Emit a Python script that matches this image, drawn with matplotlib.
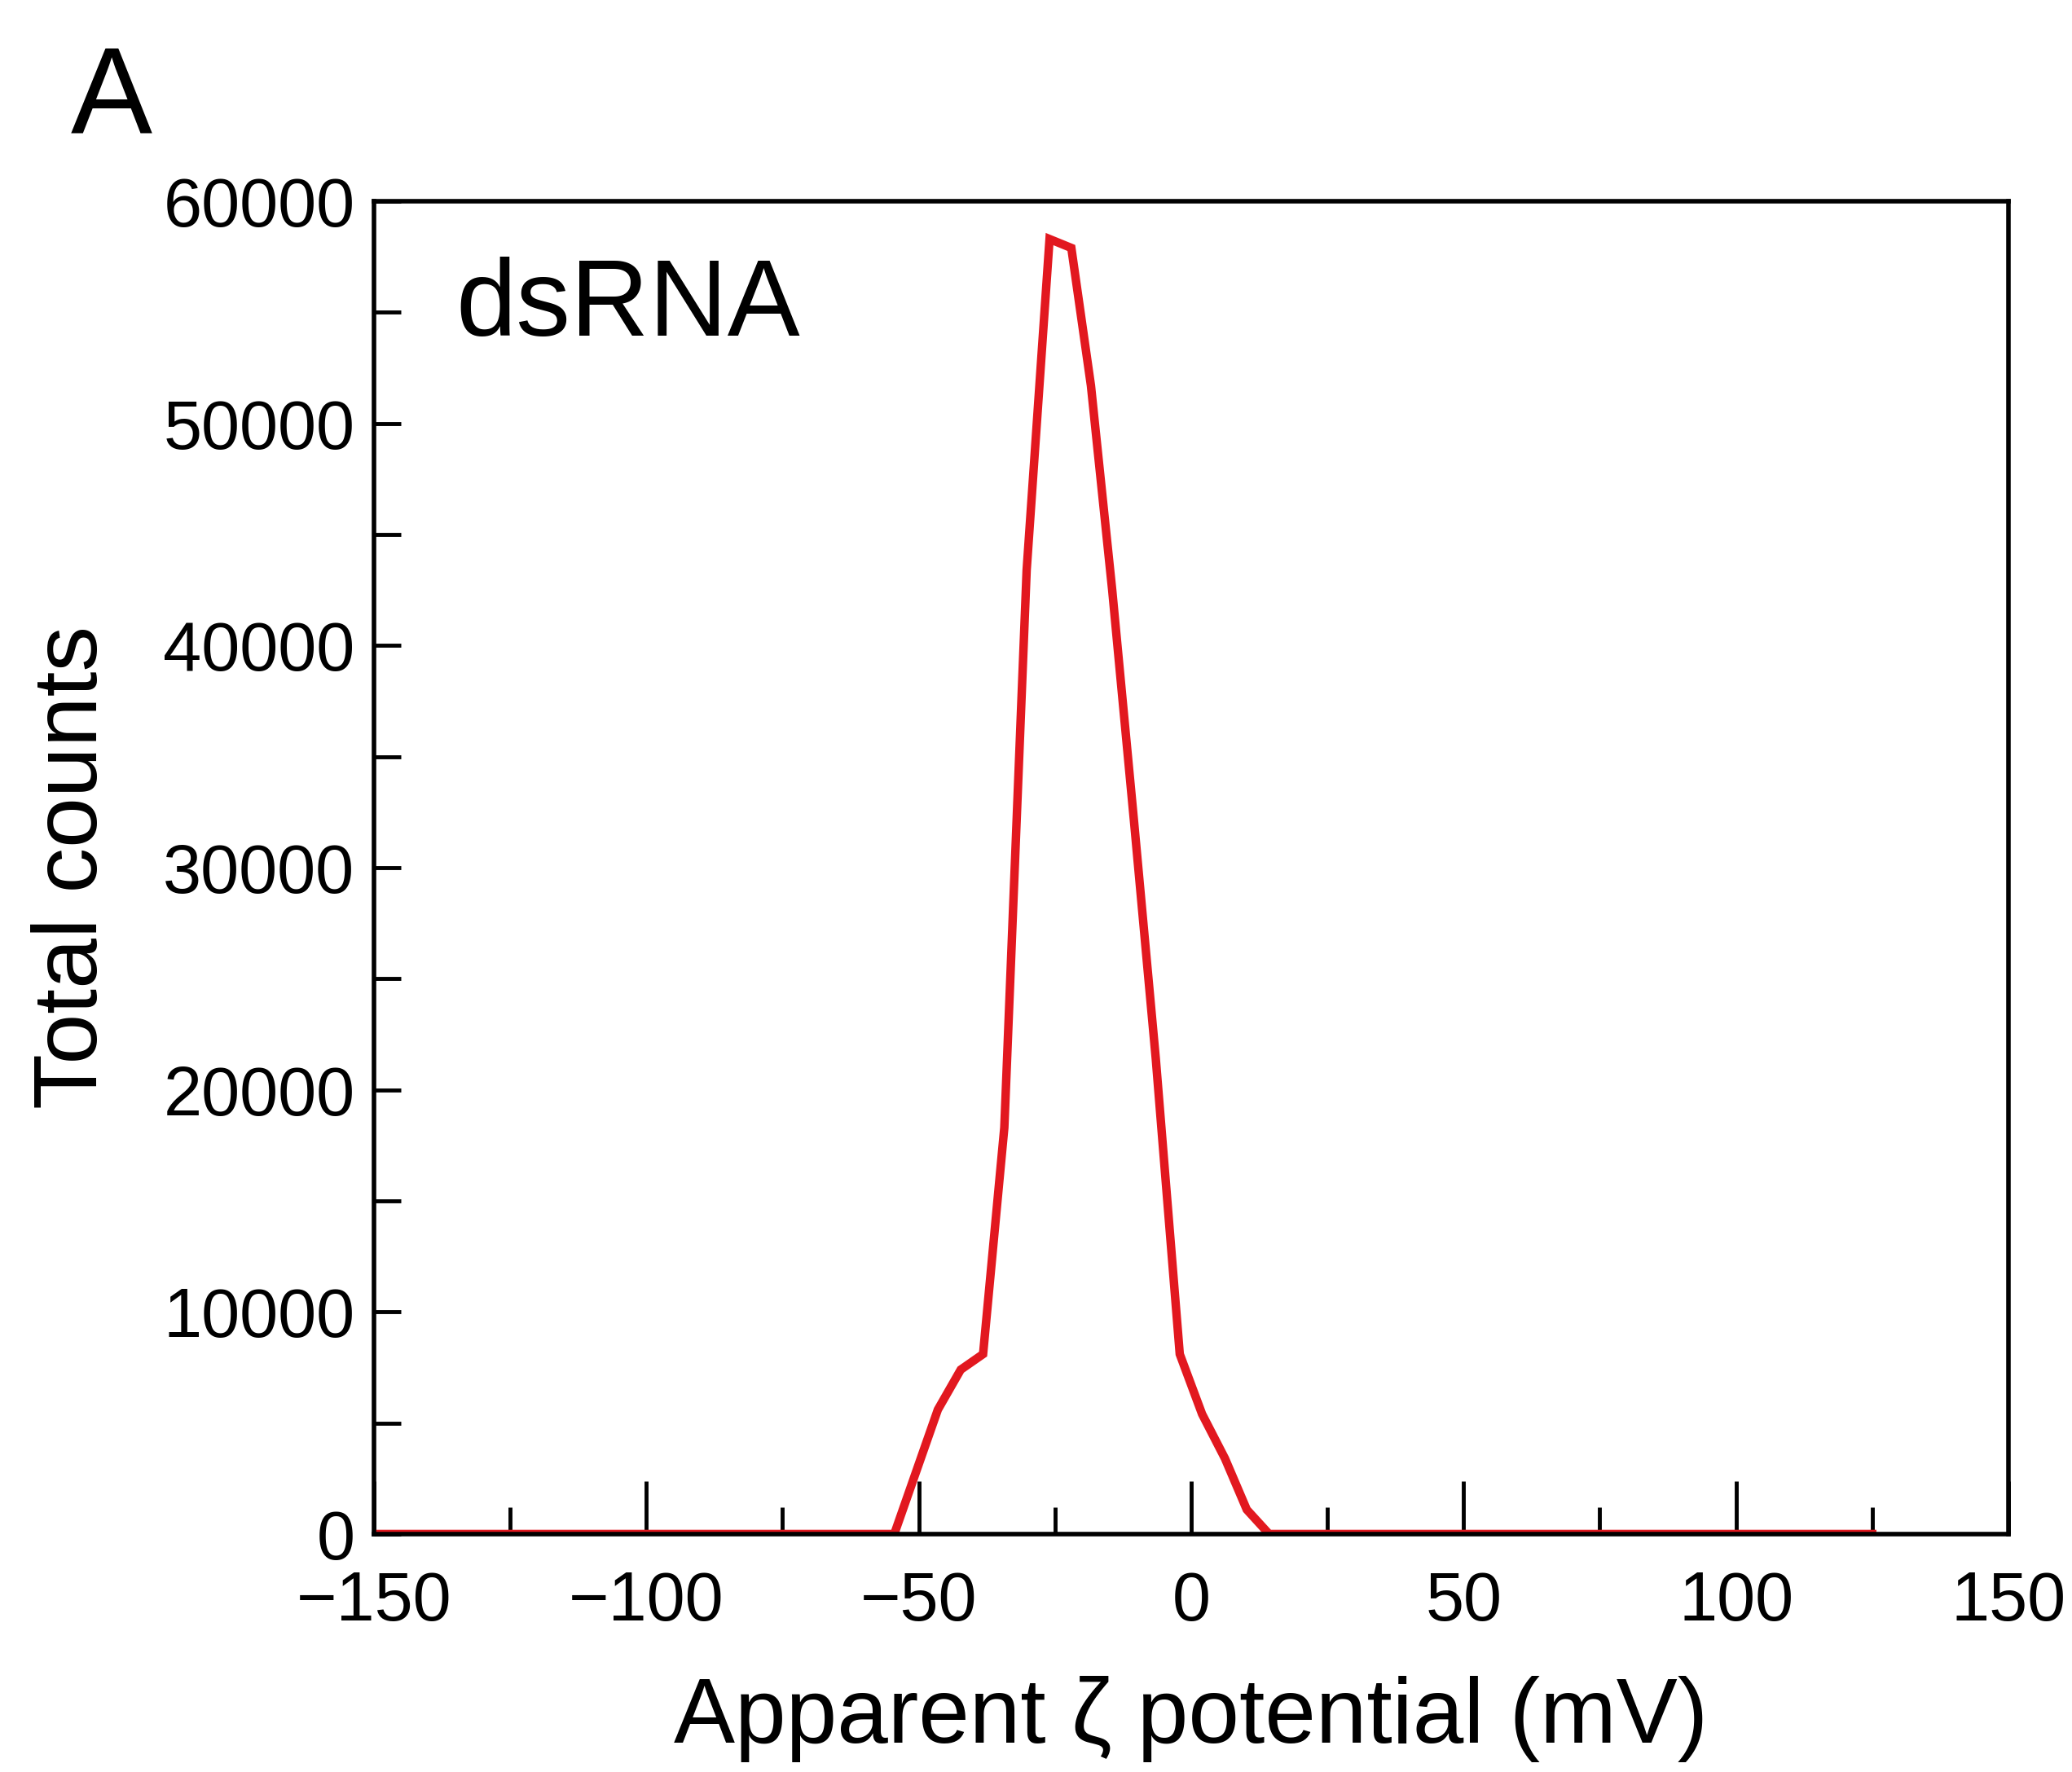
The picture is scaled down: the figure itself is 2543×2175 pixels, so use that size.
import matplotlib
matplotlib.use("Agg")
import matplotlib.pyplot as plt
from matplotlib.ticker import MultipleLocator

plt.rcParams['font.family'] = ['Liberation Sans', 'DejaVu Sans']

# zeta potential distribution of dsRNA
zeta = [-150, -54.5, -46.5, -42.3, -38.2, -34.3, -30.2, -26.0, -22.0,
        -18.4, -14.5, -10.5, -6.5, -2.1, 2.0, 6.2, 10.2, 14.3, 125]
counts = [0, 0, 5600, 7400, 8100, 18300, 43400, 58300, 57900,
          51700, 42500, 32100, 21400, 8100, 5400, 3400, 1100, 0, 0]

fig = plt.figure(figsize=(25.43, 21.75), dpi=100)
ax = fig.add_axes([0.1805, 0.1343, 0.7888, 0.7521])

ax.plot(zeta, counts, color='#e2181f', lw=7.5, solid_joinstyle='miter')

ax.set_xlim(-150, 150)
ax.set_ylim(0, 60000)
ax.xaxis.set_major_locator(MultipleLocator(50))
ax.xaxis.set_minor_locator(MultipleLocator(25))
ax.yaxis.set_major_locator(MultipleLocator(10000))
ax.yaxis.set_minor_locator(MultipleLocator(5000))

for s in ax.spines.values():
    s.set_linewidth(4)
ax.tick_params(axis='both', which='both', direction='in', width=3.5, labelsize=61)
ax.tick_params(axis='x', which='major', length=47, pad=32)
ax.tick_params(axis='x', which='minor', length=24)
ax.tick_params(axis='y', which='both', length=24, pad=17)
ax.tick_params(axis='x', which='both', top=False)
ax.tick_params(axis='y', which='both', right=False)

ax.set_xlabel('Apparent ζ potential (mV)', fontsize=81, labelpad=36)
ax.set_ylabel('Total counts', fontsize=80, labelpad=42)

ax.text(0.05, 0.92, 'dsRNA', transform=ax.transAxes, fontsize=96, va='center')
fig.text(0.034, 0.975, 'A', fontsize=108, va='top')

plt.savefig('out.png', dpi=100)
